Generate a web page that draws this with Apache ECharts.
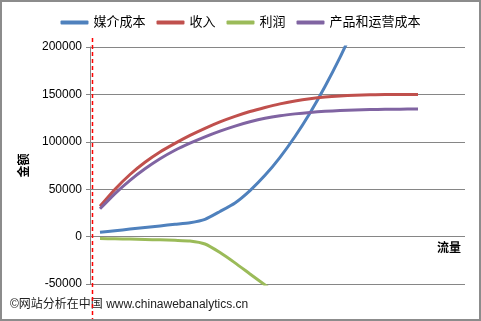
<!DOCTYPE html>
<html>
<head>
<meta charset="utf-8">
<script src="https://cdn.jsdelivr.net/npm/echarts@6/dist/echarts.min.js"></script>
<style>
html,body{margin:0;padding:0;background:#fff;}
#c{width:481px;height:321px;}
</style>
</head>
<body>
<div id="c"></div>
<script>
// 流量 (x values)
var flow = [40, 100, 160, 220, 280, 340, 400, 460, 520, 580, 640, 700, 760, 820, 880, 940, 1000, 1060, 1120, 1180, 1240, 1300, 1312];
// 媒介成本
var mediaCost = [4500, 6200, 7900, 9600, 11300, 13000, 14700, 18200, 26500, 35500, 48600, 64600, 83600, 105600, 130400, 158300, 189000, 222800];
// 收入
var revenue = [32000, 50000, 65500, 78400, 89200, 98300, 106700, 114200, 121000, 126800, 131900, 136200, 140000, 143000, 145400, 147200, 148400, 149200, 149700, 150000, 150000, 150000, 150000];
// 利润
var profit = [-2000, -2300, -2600, -3000, -3400, -3900, -4600, -7800, -16800, -27700, -39400, -51000, -63000];
// 产品和运营成本
var opCost = [29300, 45400, 59400, 71500, 82100, 91100, 98600, 105300, 111300, 116600, 121100, 124800, 127500, 129450, 130950, 132150, 132975, 133575, 134000, 134270, 134420, 134500, 134500];
var seriesNames = ['媒介成本', '收入', '利润', '产品和运营成本'];
var yTicks = [-50000, 0, 50000, 100000, 150000, 200000];
var markFlow = 8;

function pairs(vals) {
  var out = [];
  for (var i = 0; i < vals.length; i++) out.push([flow[i], vals[i]]);
  return out;
}

var FONT = '"Liberation Sans", Arial, "Noto Sans CJK SC", sans-serif';
var colors = ['#4F81BD', '#C0504D', '#9BBB59', '#8064A2'];
var allData = [mediaCost, revenue, profit, opCost];

var chart = echarts.init(document.getElementById('c'), null, {renderer: 'canvas'});
var series = seriesNames.map(function (n, i) {
  return {
    name: n,
    type: 'line',
    data: pairs(allData[i]),
    symbol: 'none',
    smooth: 0.2,
    clip: true,
    lineStyle: {color: colors[i], width: 3},
    itemStyle: {color: colors[i]}
  };
});

chart.setOption({
  animation: false,
  textStyle: {fontFamily: FONT},
  color: colors,
  legend: {
    top: 11,
    left: 'center',
    icon: 'roundRect',
    itemWidth: 28,
    itemHeight: 4,
    itemGap: 11,
    textStyle: {fontSize: 13, color: '#000', fontFamily: FONT},
    data: seriesNames
  },
  grid: {left: 90, right: 16, top: 47, bottom: 37},
  xAxis: {
    type: 'value',
    min: 0,
    max: 1500,
    name: '流量',
    nameLocation: 'end',
    nameGap: -4,
    nameTextStyle: {fontSize: 12, fontWeight: 'bold', color: '#000', align: 'right', verticalAlign: 'top', padding: [6, 0, 0, 0], fontFamily: FONT},
    axisLine: {show: false, onZero: true},
    axisTick: {show: false},
    axisLabel: {show: false},
    splitLine: {show: false}
  },
  yAxis: {
    type: 'value',
    min: yTicks[0],
    max: yTicks[yTicks.length - 1],
    interval: 50000,
    name: '金额',
    nameLocation: 'middle',
    nameRotate: 90,
    nameGap: 58,
    nameTextStyle: {fontSize: 12, fontWeight: 'bold', color: '#000', fontFamily: FONT},
    axisLine: {show: true, lineStyle: {color: '#868686', width: 1}},
    axisTick: {show: true, length: 4, lineStyle: {color: '#868686'}},
    axisLabel: {fontSize: 12, color: '#000', margin: 8, fontFamily: FONT, formatter: function (v) { return String(v); }},
    splitLine: {show: true, lineStyle: {color: '#868686', width: 1}}
  },
  series: series
});

var mx = Math.round(chart.convertToPixel({xAxisIndex: 0}, markFlow)) + 0.5;
chart.setOption({
  graphic: [
    {
      type: 'line',
      z: 100,
      shape: {x1: mx, y1: 38, x2: mx, y2: 321},
      style: {stroke: '#FF0000', lineWidth: 1.5, lineDash: [4, 3]}
    },
    {
      type: 'text',
      left: 10,
      top: 299,
      z: 50,
      style: {text: '©网站分析在中国 www.chinawebanalytics.cn', font: '12px ' + FONT, fill: '#222'}
    },
    {
      type: 'rect',
      z: 200,
      shape: {x: 1, y: 1, width: 479, height: 319},
      style: {fill: 'none', stroke: '#8c8c8c', lineWidth: 2}
    }
  ]
});
</script>
</body>
</html>
